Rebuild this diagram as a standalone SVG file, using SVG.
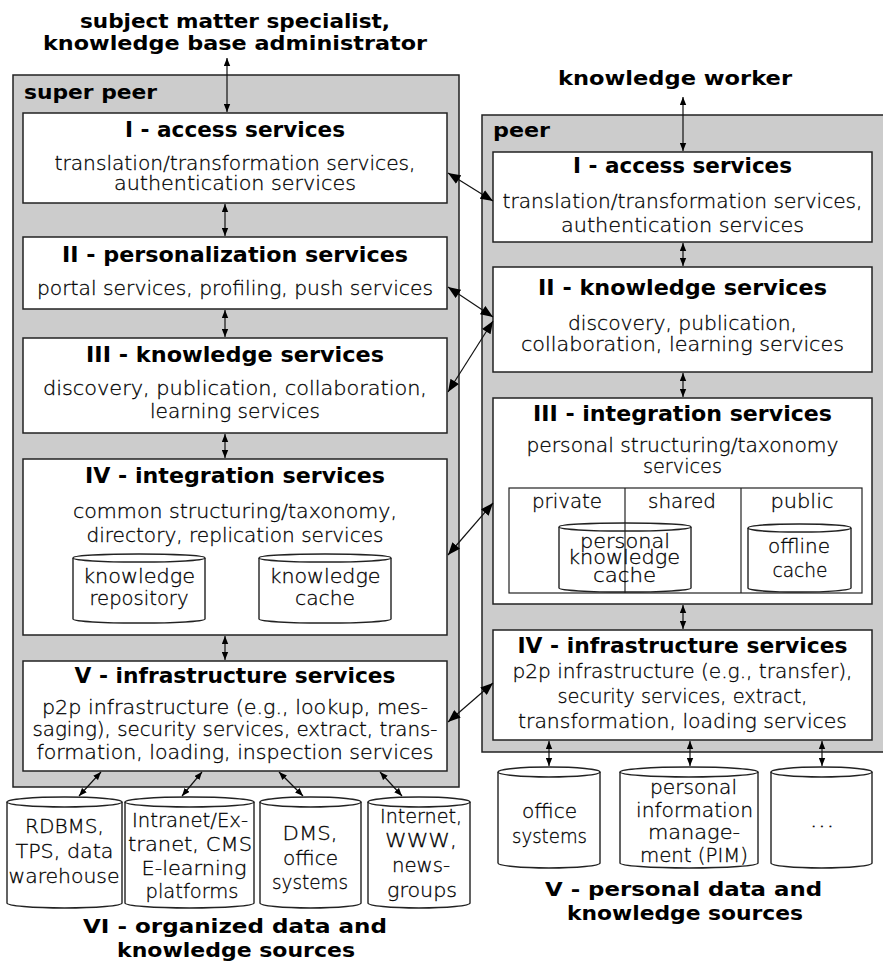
<svg xmlns="http://www.w3.org/2000/svg" width="883" height="965" viewBox="0 0 883 965">
<style>
.bg{fill:#cccccc;stroke:#222;stroke-width:1.5}
.box{fill:#fff;stroke:#222;stroke-width:1.5}
.thin{fill:none;stroke:#222;stroke-width:1.2}
.cyl{fill:#fff;stroke:#222;stroke-width:1.4}
.t{font-family:"DejaVu Sans",sans-serif;font-weight:bold;font-size:21px;fill:#000;text-anchor:middle}
.h{font-family:"DejaVu Sans",sans-serif;font-weight:bold;font-size:20px;fill:#000;text-anchor:middle}
.hl{font-family:"DejaVu Sans",sans-serif;font-weight:bold;font-size:20px;fill:#000}
.b{font-family:"DejaVu Sans",sans-serif;font-weight:300;font-size:20px;fill:#000;stroke:#000;stroke-width:0.3;text-anchor:middle}
.bs{font-size:19px}
.c{stroke:#111;stroke-width:1.2;fill:none}
</style>
<defs>
<marker id="a" viewBox="0 0 10 8" refX="10" refY="4" markerWidth="13" markerHeight="10" markerUnits="userSpaceOnUse" orient="auto-start-reverse"><path d="M0,0 L10,4 L0,8z" fill="#000"/></marker>
<marker id="s" viewBox="0 0 10 8" refX="10" refY="4" markerWidth="8" markerHeight="7" markerUnits="userSpaceOnUse" orient="auto-start-reverse"><path d="M0,0 L10,4 L0,8z" fill="#000"/></marker>
</defs>

<!-- outside labels -->
<g id="labels-top">
<text class="h" x="235" y="28" textLength="310" lengthAdjust="spacingAndGlyphs">subject matter specialist,</text>
<text class="h" x="235" y="50" textLength="384" lengthAdjust="spacingAndGlyphs">knowledge base administrator</text>
<text class="h" x="675" y="85" textLength="234" lengthAdjust="spacingAndGlyphs">knowledge worker</text>
</g>

<!-- super peer container -->
<g id="super-peer">
<rect class="bg" x="13" y="75" width="446" height="712"/>
<text class="hl" x="24" y="99" textLength="133" lengthAdjust="spacingAndGlyphs">super peer</text>
</g>

<g id="sp-access">
<rect class="box" x="23" y="113" width="424" height="90"/>
<text class="t" x="235" y="137" textLength="220" lengthAdjust="spacingAndGlyphs">I - access services</text>
<text class="b" x="235" y="170" textLength="361" lengthAdjust="spacingAndGlyphs">translation/transformation services,</text>
<text class="b" x="235" y="190" textLength="242" lengthAdjust="spacingAndGlyphs">authentication services</text>
</g>

<g id="sp-personalization">
<rect class="box" x="23" y="237" width="424" height="72"/>
<text class="t" x="235" y="262" textLength="346" lengthAdjust="spacingAndGlyphs">II - personalization services</text>
<text class="b" x="235" y="295" textLength="396" lengthAdjust="spacingAndGlyphs">portal services, profiling, push services</text>
</g>

<g id="sp-knowledge">
<rect class="box" x="23" y="338" width="424" height="95"/>
<text class="t" x="235" y="362" textLength="298" lengthAdjust="spacingAndGlyphs">III - knowledge services</text>
<text class="b" x="235" y="395" textLength="384" lengthAdjust="spacingAndGlyphs">discovery, publication, collaboration,</text>
<text class="b" x="235" y="418" textLength="170" lengthAdjust="spacingAndGlyphs">learning services</text>
</g>

<g id="sp-integration">
<rect class="box" x="23" y="459" width="424" height="176"/>
<text class="t" x="235" y="483" textLength="300" lengthAdjust="spacingAndGlyphs">IV - integration services</text>
<text class="b" x="235" y="518" textLength="324" lengthAdjust="spacingAndGlyphs">common structuring/taxonomy,</text>
<text class="b" x="235" y="542" textLength="297" lengthAdjust="spacingAndGlyphs">directory, replication services</text>
</g>

<g id="sp-knowledge-repository">
<path class="cyl" d="M73,558 L73,619 A66,4 0 0 0 205,619 L205,558"/>
<ellipse class="cyl" cx="139" cy="558" rx="66" ry="4"/>
<text class="b" x="139" y="583" textLength="112" lengthAdjust="spacingAndGlyphs">knowledge</text>
<text class="b" x="139" y="605" textLength="99" lengthAdjust="spacingAndGlyphs">repository</text>
</g>

<g id="sp-knowledge-cache">
<path class="cyl" d="M259,558 L259,619 A66,4 0 0 0 391,619 L391,558"/>
<ellipse class="cyl" cx="325" cy="558" rx="66" ry="4"/>
<text class="b" x="325" y="583" textLength="111" lengthAdjust="spacingAndGlyphs">knowledge</text>
<text class="b" x="325" y="605" textLength="60" lengthAdjust="spacingAndGlyphs">cache</text>
</g>

<g id="sp-infrastructure">
<rect class="box" x="23" y="661" width="424" height="110"/>
<text class="t" x="235" y="683" textLength="321" lengthAdjust="spacingAndGlyphs">V - infrastructure services</text>
<text class="b" x="235" y="714" textLength="386" lengthAdjust="spacingAndGlyphs">p2p infrastructure (e.g., lookup, mes-</text>
<text class="b" x="235" y="736" textLength="405" lengthAdjust="spacingAndGlyphs">saging), security services, extract, trans-</text>
<text class="b" x="235" y="759" textLength="397" lengthAdjust="spacingAndGlyphs">formation, loading, inspection services</text>
</g>

<!-- peer container -->
<g id="peer">
<rect class="bg" x="482" y="115" width="410" height="637"/>
<text class="hl" x="493" y="137" textLength="57" lengthAdjust="spacingAndGlyphs">peer</text>
</g>

<g id="p-access">
<rect class="box" x="493" y="152" width="379" height="90"/>
<text class="t" x="682.5" y="173" textLength="219" lengthAdjust="spacingAndGlyphs">I - access services</text>
<text class="b" x="682.5" y="208" textLength="360" lengthAdjust="spacingAndGlyphs">translation/transformation services,</text>
<text class="b" x="682.5" y="232" textLength="243" lengthAdjust="spacingAndGlyphs">authentication services</text>
</g>

<g id="p-knowledge">
<rect class="box" x="493" y="267" width="379" height="105"/>
<text class="t" x="682.5" y="295" textLength="289" lengthAdjust="spacingAndGlyphs">II - knowledge services</text>
<text class="b" x="682.5" y="330" textLength="229" lengthAdjust="spacingAndGlyphs">discovery, publication,</text>
<text class="b" x="682.5" y="351" textLength="323" lengthAdjust="spacingAndGlyphs">collaboration, learning services</text>
</g>

<g id="p-integration">
<rect class="box" x="493" y="398" width="379" height="206"/>
<text class="t" x="682.5" y="421" textLength="299" lengthAdjust="spacingAndGlyphs">III - integration services</text>
<text class="b bs" x="682.5" y="452" textLength="312" lengthAdjust="spacingAndGlyphs">personal structuring/taxonomy</text>
<text class="b bs" x="682.5" y="473" textLength="79" lengthAdjust="spacingAndGlyphs">services</text>
<rect class="thin" x="509" y="488" width="353" height="105"/>
<line class="thin" x1="741" y1="488" x2="741" y2="593"/>
<text class="b" x="567" y="508" textLength="70" lengthAdjust="spacingAndGlyphs">private</text>
<text class="b" x="682" y="508" textLength="68" lengthAdjust="spacingAndGlyphs">shared</text>
<text class="b" x="802" y="508" textLength="63" lengthAdjust="spacingAndGlyphs">public</text>
</g>

<g id="p-personal-knowledge-cache">
<path class="cyl" d="M559,527 L559,588 A66,4 0 0 0 691,588 L691,527"/>
<ellipse class="cyl" cx="625" cy="527" rx="66" ry="4"/>
<line class="thin" x1="625" y1="488" x2="625" y2="593"/>
<text class="b" x="625" y="548" textLength="90" lengthAdjust="spacingAndGlyphs">personal</text>
<text class="b" x="624" y="564" textLength="112" lengthAdjust="spacingAndGlyphs">knowledge</text>
<text class="b" x="624.5" y="582" textLength="63" lengthAdjust="spacingAndGlyphs">cache</text>
</g>

<g id="p-offline-cache">
<path class="cyl" d="M748,528 L748,588 A51.5,4 0 0 0 851,588 L851,528"/>
<ellipse class="cyl" cx="799.5" cy="528" rx="51.5" ry="4"/>
<text class="b" x="799" y="553" textLength="62" lengthAdjust="spacingAndGlyphs">offline</text>
<text class="b" x="800" y="577" textLength="55" lengthAdjust="spacingAndGlyphs">cache</text>
</g>

<g id="p-infrastructure">
<rect class="box" x="493" y="630" width="379" height="110"/>
<text class="t" x="682.5" y="653" textLength="330" lengthAdjust="spacingAndGlyphs">IV - infrastructure services</text>
<text class="b" x="682.5" y="678" textLength="340" lengthAdjust="spacingAndGlyphs">p2p infrastructure (e.g., transfer),</text>
<text class="b" x="682.5" y="703" textLength="250" lengthAdjust="spacingAndGlyphs">security services, extract,</text>
<text class="b" x="682.5" y="728" textLength="329" lengthAdjust="spacingAndGlyphs">transformation, loading services</text>
</g>

<!-- organized sources -->
<g id="src-rdbms">
<path class="cyl" d="M7,802 L7,903 A57.5,5 0 0 0 122,903 L122,802"/>
<ellipse class="cyl" cx="64.5" cy="802" rx="57.5" ry="5"/>
<text class="b" x="64.5" y="833" textLength="79" lengthAdjust="spacingAndGlyphs">RDBMS,</text>
<text class="b" x="64.5" y="858" textLength="98" lengthAdjust="spacingAndGlyphs">TPS, data</text>
<text class="b" x="64" y="883" textLength="111" lengthAdjust="spacingAndGlyphs">warehouse</text>
</g>
<g id="src-intranet">
<path class="cyl" d="M125,802 L125,903 A64.5,5 0 0 0 254,903 L254,802"/>
<ellipse class="cyl" cx="189.5" cy="802" rx="64.5" ry="5"/>
<text class="b" x="190" y="827" textLength="116" lengthAdjust="spacingAndGlyphs">Intranet/Ex-</text>
<text class="b" x="190" y="851" textLength="124" lengthAdjust="spacingAndGlyphs">tranet, CMS</text>
<text class="b" x="194" y="875" textLength="105" lengthAdjust="spacingAndGlyphs">E-learning</text>
<text class="b" x="192" y="898" textLength="93" lengthAdjust="spacingAndGlyphs">platforms</text>
</g>
<g id="src-dms">
<path class="cyl" d="M260,802 L260,903 A50.5,5 0 0 0 361,903 L361,802"/>
<ellipse class="cyl" cx="310.5" cy="802" rx="50.5" ry="5"/>
<text class="b" x="310" y="840" textLength="55" lengthAdjust="spacingAndGlyphs">DMS,</text>
<text class="b" x="310.5" y="865" textLength="55" lengthAdjust="spacingAndGlyphs">office</text>
<text class="b" x="310" y="889" textLength="76" lengthAdjust="spacingAndGlyphs">systems</text>
</g>
<g id="src-internet">
<path class="cyl" d="M368,802 L368,903 A51,5 0 0 0 470,903 L470,802"/>
<ellipse class="cyl" cx="419" cy="802" rx="51" ry="5"/>
<text class="b" x="421" y="823" textLength="82" lengthAdjust="spacingAndGlyphs">Internet,</text>
<text class="b" x="421" y="847" textLength="72" lengthAdjust="spacingAndGlyphs">WWW,</text>
<text class="b" x="421" y="872" textLength="58" lengthAdjust="spacingAndGlyphs">news-</text>
<text class="b" x="422" y="897" textLength="70" lengthAdjust="spacingAndGlyphs">groups</text>
</g>
<g id="label-organized">
<text class="h" x="235" y="933" textLength="304" lengthAdjust="spacingAndGlyphs">VI - organized data and</text>
<text class="h" x="236" y="957" textLength="238" lengthAdjust="spacingAndGlyphs">knowledge sources</text>
</g>

<!-- personal sources -->
<g id="src-office">
<path class="cyl" d="M498,772 L498,863 A51,5 0 0 0 600,863 L600,772"/>
<ellipse class="cyl" cx="549" cy="772" rx="51" ry="5"/>
<text class="b" x="549.5" y="818" textLength="55" lengthAdjust="spacingAndGlyphs">office</text>
<text class="b" x="549.5" y="843" textLength="75" lengthAdjust="spacingAndGlyphs">systems</text>
</g>
<g id="src-pim">
<path class="cyl" d="M620,772 L620,863 A69,5 0 0 0 758,863 L758,772"/>
<ellipse class="cyl" cx="689" cy="772" rx="69" ry="5"/>
<text class="b" x="693.5" y="794" textLength="87" lengthAdjust="spacingAndGlyphs">personal</text>
<text class="b" x="694.5" y="817" textLength="117" lengthAdjust="spacingAndGlyphs">information</text>
<text class="b" x="694" y="839" textLength="92" lengthAdjust="spacingAndGlyphs">manage-</text>
<text class="b" x="694" y="862" textLength="108" lengthAdjust="spacingAndGlyphs">ment (PIM)</text>
</g>
<g id="src-more">
<path class="cyl" d="M771,772 L771,863 A50.5,5 0 0 0 872,863 L872,772"/>
<ellipse class="cyl" cx="821.5" cy="772" rx="50.5" ry="5"/>
<text class="b" x="822" y="827" textLength="25" lengthAdjust="spacingAndGlyphs">...</text>
</g>
<g id="label-personal">
<text class="h" x="683.5" y="896" textLength="277" lengthAdjust="spacingAndGlyphs">V - personal data and</text>
<text class="h" x="685" y="920" textLength="236" lengthAdjust="spacingAndGlyphs">knowledge sources</text>
</g>

<!-- connectors -->
<g id="connectors" class="c">
<line x1="227" y1="58" x2="227" y2="112" marker-start="url(#s)" marker-end="url(#s)"/>
<line x1="683" y1="97" x2="683" y2="151" marker-start="url(#s)" marker-end="url(#s)"/>
<line x1="225" y1="204" x2="225" y2="236" marker-start="url(#s)" marker-end="url(#s)"/>
<line x1="225" y1="310" x2="225" y2="337" marker-start="url(#s)" marker-end="url(#s)"/>
<line x1="225" y1="434" x2="225" y2="458" marker-start="url(#s)" marker-end="url(#s)"/>
<line x1="225" y1="636" x2="225" y2="660" marker-start="url(#s)" marker-end="url(#s)"/>
<line x1="683" y1="243" x2="683" y2="266" marker-start="url(#s)" marker-end="url(#s)"/>
<line x1="683" y1="373" x2="683" y2="397" marker-start="url(#s)" marker-end="url(#s)"/>
<line x1="683" y1="605" x2="683" y2="629" marker-start="url(#s)" marker-end="url(#s)"/>
<line x1="549" y1="741" x2="549" y2="766" marker-start="url(#s)" marker-end="url(#s)"/>
<line x1="690" y1="741" x2="690" y2="766" marker-start="url(#s)" marker-end="url(#s)"/>
<line x1="822" y1="741" x2="822" y2="766" marker-start="url(#s)" marker-end="url(#s)"/>
<line x1="101" y1="772" x2="79" y2="796" marker-start="url(#s)" marker-end="url(#s)"/>
<line x1="202" y1="772" x2="182" y2="796" marker-start="url(#s)" marker-end="url(#s)"/>
<line x1="279" y1="772" x2="303" y2="796" marker-start="url(#s)" marker-end="url(#s)"/>
<line x1="380" y1="772" x2="402" y2="796" marker-start="url(#s)" marker-end="url(#s)"/>
<line x1="448" y1="173" x2="493" y2="201" marker-start="url(#a)" marker-end="url(#a)"/>
<line x1="448" y1="287" x2="493" y2="317" marker-start="url(#a)" marker-end="url(#a)"/>
<line x1="448" y1="392" x2="493" y2="321" marker-start="url(#a)" marker-end="url(#a)"/>
<line x1="448" y1="555" x2="493" y2="503" marker-start="url(#a)" marker-end="url(#a)"/>
<line x1="448" y1="722" x2="493" y2="683" marker-start="url(#a)" marker-end="url(#a)"/>
</g>
</svg>
